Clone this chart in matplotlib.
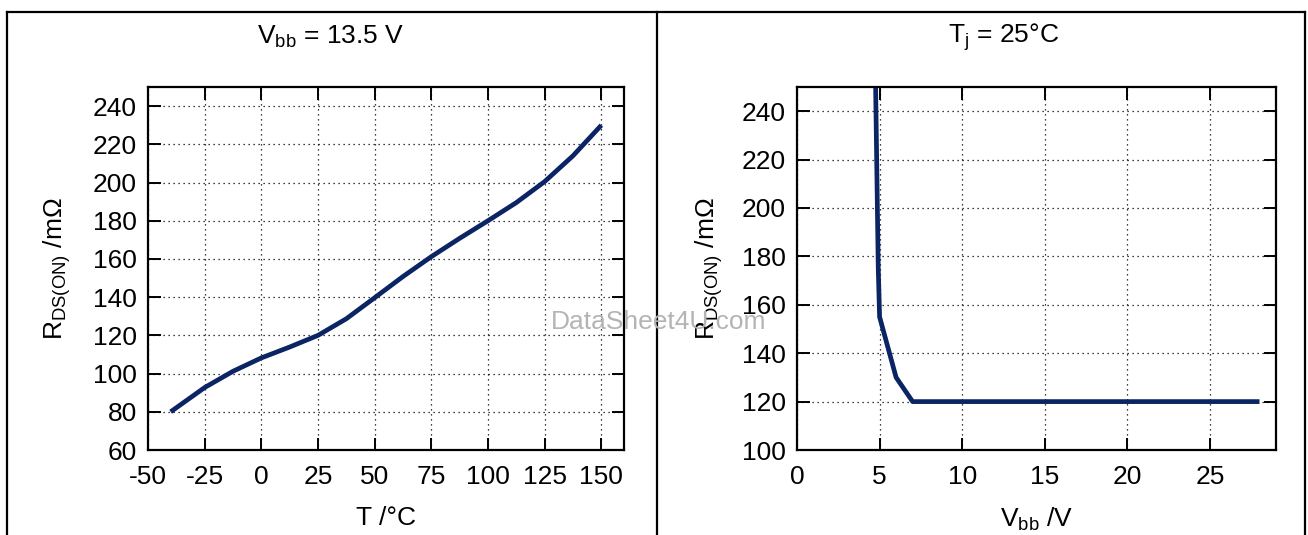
import matplotlib
matplotlib.use("Agg")
import matplotlib.pyplot as plt
from matplotlib.lines import Line2D

plt.rcParams['font.family'] = ['Liberation Sans', 'DejaVu Sans']
plt.rcParams['mathtext.fontset'] = 'custom'
plt.rcParams['mathtext.rm'] = 'Liberation Sans'
plt.rcParams['mathtext.it'] = 'Liberation Sans:italic'
plt.rcParams['mathtext.bf'] = 'Liberation Sans:bold'
plt.rcParams['axes.unicode_minus'] = False

# ---- data: left panel (R_DS(ON) vs temperature, Vbb = 13.5 V)
temp_c = [-40, -25, -12.5, 0, 12.5, 25, 37.5, 50, 62.5, 75, 87.5, 100, 112.5, 125, 137.5, 150]
rds_temp = [80, 92.7, 101.2, 108.2, 113.9, 120, 128.7, 139.7, 150.8, 161.2, 170.8, 180, 189.5, 200.5, 214, 230]
left_xticks = [-50, -25, 0, 25, 50, 75, 100, 125, 150]
left_yticks = [60, 80, 100, 120, 140, 160, 180, 200, 220, 240]

# ---- data: right panel (R_DS(ON) vs Vbb, Tj = 25 C)
vbb = [4.76, 4.92, 5.0, 6.0, 7.0, 28.0]
rds_vbb = [250, 175, 155, 130, 120, 120]
right_xticks = [0, 5, 10, 15, 20, 25]
right_yticks = [100, 120, 140, 160, 180, 200, 220, 240]

W, H = 1308, 535
fig = plt.figure(figsize=(W / 100, H / 100), dpi=100)
fig.patch.set_facecolor('white')

LINE_COLOR = '#0a2464'
FS = 19


def px_axes(x0, y0, x1, y1):
    return fig.add_axes([x0 / W, 1 - y1 / H, (x1 - x0) / W, (y1 - y0) / H])


def style(ax):
    for s in ax.spines.values():
        s.set_linewidth(1.6)
        s.set_color('black')
    ax.tick_params(direction='in', length=9, width=1.4, top=True, right=True,
                   labelsize=FS, pad=8)
    ax.tick_params(axis='x', pad=11)
    ax.grid(True, color='black', linestyle=(0, (1, 3)), linewidth=0.9)
    ax.set_axisbelow(True)


# left panel
ax1 = px_axes(148, 87, 624, 450)
ax1.plot(temp_c, rds_temp, color=LINE_COLOR, linewidth=3.4, solid_capstyle='butt')
ax1.set_xlim(-50, 160)
ax1.set_ylim(60, 250)
ax1.set_xticks(left_xticks)
ax1.set_yticks(left_yticks)
style(ax1)
ax1.set_xlabel('T /°C', fontsize=FS, labelpad=12)
ax1.set_ylabel('R$_{\\rm DS(ON)}$ /mΩ', fontsize=FS, labelpad=14)

# right panel
ax2 = px_axes(797, 87, 1276, 450)
ax2.plot(vbb, rds_vbb, color=LINE_COLOR, linewidth=3.4, solid_capstyle='butt', clip_on=True)
ax2.set_xlim(0, 29)
ax2.set_ylim(100, 250)
ax2.set_xticks(right_xticks)
ax2.set_yticks(right_yticks)
style(ax2)
ax2.set_xlabel('V$_{\\rm bb}$ /V', fontsize=FS, labelpad=12)
ax2.set_ylabel('R$_{\\rm DS(ON)}$ /mΩ', fontsize=FS, labelpad=12)

# titles
fig.text(331 / W, 1 - 37 / H, 'V$_{\\rm bb}$ = 13.5 V', fontsize=FS, ha='center', va='center')
fig.text(1004 / W, 1 - 37 / H, 'T$_{\\rm j}$ = 25°C', fontsize=FS, ha='center', va='center')

# watermark
fig.text(659 / W, 1 - 322 / H, 'DataSheet4U.com', fontsize=19, color='#b4b4b4',
         ha='center', va='center', zorder=10)

# frame lines
lw = 1.6
for (x0, y0, x1, y1) in [(7, 12, 1305, 12), (7, 12, 7, 535), (1305, 12, 1305, 535),
                         (657, 12, 657, 535)]:
    fig.add_artist(Line2D([x0 / W, x1 / W], [1 - y0 / H, 1 - y1 / H],
                          transform=fig.transFigure, color='black', linewidth=lw))

fig.savefig('out.png', dpi=100, facecolor='white')
